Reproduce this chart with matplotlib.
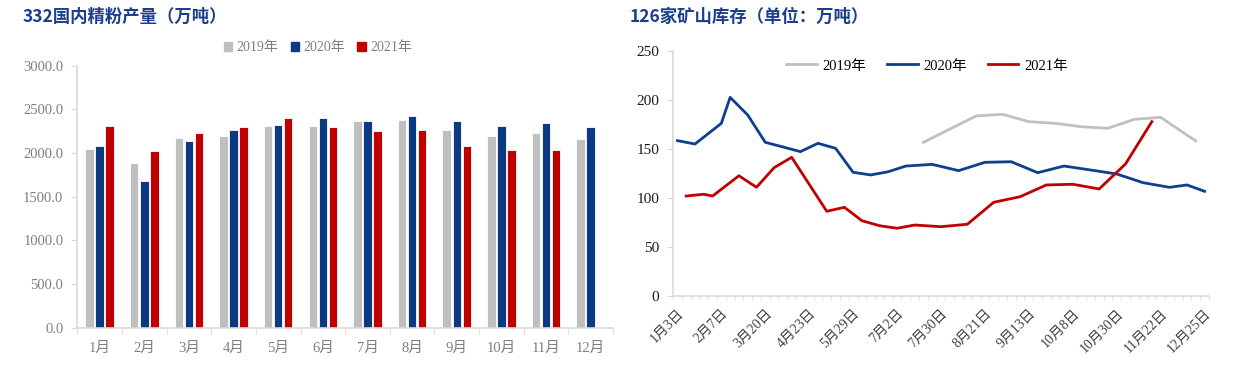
import numpy as np
import matplotlib
matplotlib.use("Agg")
import matplotlib.pyplot as plt
from matplotlib.patches import Patch

plt.rcParams["font.family"] = ["Liberation Serif", "Noto Sans CJK SC"]
plt.rcParams["axes.unicode_minus"] = False

# 左图：332国内精粉产量（万吨）
months = [f"{i}月" for i in range(1, 13)]
prod_2019 = [2046, 1886, 2172, 2195, 2313, 2309, 2367, 2378, 2264, 2195, 2229, 2157]
prod_2020 = [2080, 1680, 2138, 2260, 2321, 2397, 2367, 2424, 2367, 2313, 2344, 2294]
prod_2021 = [2306, 2027, 2229, 2294, 2397, 2294, 2252, 2267, 2080, 2035, 2035, np.nan]

# 右图：126家矿山库存（万吨）, 61 个日期类别，每 5 个显示一个标签
n_dates = 61
date_labels = ["1月3日", "2月7日", "3月20日", "4月23日", "5月29日", "7月2日", "7月30日",
               "8月21日", "9月13日", "10月8日", "10月30日", "11月22日", "12月25日"]
inv19_idx = [28, 31, 34, 37, 40, 43, 46, 49, 52, 55, 59]
inv19_val = [156.5, 170, 183.4, 185.1, 177.6, 175.9, 172.4, 170.8, 180, 182, 157.9]
inv20_idx = [0, 2, 5, 6, 8, 10, 12, 14, 16, 18, 20, 22, 24, 26, 29, 32, 35, 38, 41, 44,
             47, 50, 53, 56, 58, 60]
inv20_val = [158.2, 154.8, 175.9, 202.4, 184.4, 156.5, 151.8, 147, 155.5, 150.4, 125.9,
             123.2, 126.5, 132.3, 134, 127.6, 136.1, 136.7, 125.5, 132.3, 128.3, 124.2,
             115.3, 110.6, 113, 106.5]
inv21_idx = [1, 3, 4, 7, 9, 11, 13, 17, 19, 21, 23, 25, 27, 30, 33, 36, 39, 42, 45, 48,
             51, 54]
inv21_val = [101.7, 103.5, 101.7, 122.4, 110.6, 130.6, 141.2, 86.1, 90.2, 76.5, 71.4,
             68.8, 72.1, 70.4, 72.9, 95.3, 101, 113, 113.7, 108.9, 134.4, 177.6]

C_GRAY = "#BFBFBF"
C_BLUE = "#0B3A82"
C_RED = "#C00000"
C_AXIS = "#D9D9D9"
C_TITLE = "#1B3F8B"

fig = plt.figure(figsize=(12.51, 3.83), dpi=100)

# ---------- 左图 ----------
ax1 = fig.add_axes([0.0618, 0.1444, 0.4282, 0.6841])
x = np.arange(len(months))
w, off = 0.19, 0.225
for k, (vals, c) in enumerate([(prod_2019, C_GRAY), (prod_2020, C_BLUE), (prod_2021, C_RED)]):
    ax1.bar(x + (k - 1) * off, vals, width=w, color=c, edgecolor="white", linewidth=0.6)
ax1.set_ylim(0, 3000)
ax1.set_xlim(-0.5, 11.5)
ax1.set_yticks(np.arange(0, 3001, 500))
ax1.set_yticklabels([f"{v:.1f}" for v in np.arange(0, 3001, 500)])
ax1.set_xticks(x)
ax1.set_xticklabels(months)
ax1.set_xticks(np.arange(-0.5, 12, 1), minor=True)
ax1.tick_params(axis="x", which="major", length=0, pad=10, labelsize=10.5, labelcolor="#7F7F7F")
ax1.tick_params(axis="x", which="minor", length=4, color=C_AXIS)
ax1.tick_params(axis="y", length=4, color=C_AXIS, labelsize=10.5, labelcolor="#7F7F7F", pad=6)
for s in ("top", "right"):
    ax1.spines[s].set_visible(False)
for s in ("left", "bottom"):
    ax1.spines[s].set_color(C_AXIS)
    ax1.spines[s].set_linewidth(1.2)
handles = [Patch(color=c) for c in (C_GRAY, C_BLUE, C_RED)]
ax1.legend(handles, ["2019年", "2020年", "2021年"], loc="center", ncol=3,
           bbox_to_anchor=(0.449, 1.0675), frameon=False, handlelength=0.6, handleheight=0.6,
           handletextpad=0.3, columnspacing=0.9, fontsize=10, labelcolor="#7F7F7F")
fig.text(0.018, 0.955, "332国内精粉产量（万吨）", fontsize=12.5, fontweight="bold",
         color=C_TITLE, va="center", family=["Noto Sans CJK SC"])

# ---------- 右图 ----------
ax2 = fig.add_axes([0.538, 0.228, 0.4284, 0.6396])
ax2.plot(inv19_idx, inv19_val, color="#C0C0C0", lw=2, label="2019年")
ax2.plot(inv20_idx, inv20_val, color="#0D3F8F", lw=2, label="2020年")
ax2.plot(inv21_idx, inv21_val, color="#C00000", lw=2, label="2021年")
ax2.set_xlim(-0.5, n_dates - 0.5)
ax2.set_ylim(0, 250)
ax2.set_yticks(np.arange(0, 251, 50))
ax2.set_xticks(np.arange(0, n_dates, 5))
ax2.set_xticklabels(date_labels, rotation=45, ha="right", rotation_mode="anchor")
ax2.set_xticks(np.arange(-0.5, n_dates, 1), minor=True)
ax2.tick_params(axis="x", which="major", length=0, pad=8, labelsize=10, labelcolor="#404040")
ax2.tick_params(axis="x", which="minor", length=3, color=C_AXIS)
ax2.tick_params(axis="y", length=4, color=C_AXIS, labelsize=11, labelcolor="#1A1A1A", pad=6)
for s in ("top", "right"):
    ax2.spines[s].set_visible(False)
for s in ("left", "bottom"):
    ax2.spines[s].set_color(C_AXIS)
    ax2.spines[s].set_linewidth(1.2)
ax2.legend(loc="center", ncol=3, bbox_to_anchor=(0.474, 0.9377), frameon=False,
           handlelength=2.1, handletextpad=0.4, columnspacing=1.4, fontsize=10.5)
fig.text(0.503, 0.955, "126家矿山库存（单位：万吨）", fontsize=12.5, fontweight="bold",
         color=C_TITLE, va="center", family=["Noto Sans CJK SC"])

fig.savefig("out.png", dpi=100)
